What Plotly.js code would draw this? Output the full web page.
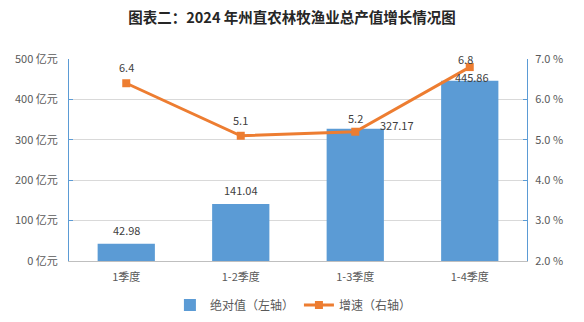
<!DOCTYPE html>
<html><head><meta charset="utf-8">
<script src="https://cdn.plot.ly/plotly-3.0.1.min.js"></script>
<style>html,body{margin:0;padding:0;background:#fff}#c{width:584px;height:322px}</style>
</head><body><div id="c"></div>
<script>
const categories = ["1季度", "1-2季度", "1-3季度", "1-4季度"];
const absValues = [42.98, 141.04, 327.17, 445.86];
const growthRates = [6.4, 5.1, 5.2, 6.8];
const leftTicks = [0, 100, 200, 300, 400, 500];
const rightTicks = [2, 3, 4, 5, 6, 7];

const font = "'Microsoft YaHei','Noto Sans CJK SC','Noto Sans',sans-serif";
const gray = "#595959";

const barLabelShift = [[0, 14], [0, 14], [42, 4], [2, 4]];
const lineLabelShift = [[0, 16], [0, 16], [0, 14], [-4, 8]];

const annotations = [];
absValues.forEach((v, i) => annotations.push({
  x: categories[i], y: v, xref: 'x', yref: 'y', text: v.toFixed(2), showarrow: false,
  xshift: barLabelShift[i][0], yshift: barLabelShift[i][1], font: {size: 11, color: "#404040", family: font}
}));
growthRates.forEach((v, i) => annotations.push({
  x: categories[i], y: v, xref: 'x', yref: 'y2', text: String(v), showarrow: false,
  xshift: lineLabelShift[i][0], yshift: lineLabelShift[i][1], font: {size: 11, color: "#404040", family: font}
}));

const data = [
  {type: 'bar', x: categories, y: absValues, name: '绝对值（左轴）', marker: {color: '#5b9bd5'}, yaxis: 'y'},
  {type: 'scatter', mode: 'lines+markers', x: categories, y: growthRates, name: '增速（右轴）', yaxis: 'y2',
   line: {color: '#ed7d31', width: 3}, marker: {symbol: 'square', size: 8, color: '#ed7d31'}}
];

const layout = {
  width: 584, height: 322,
  margin: {l: 69, r: 57, t: 59, b: 61, autoexpand: false},
  paper_bgcolor: '#fff', plot_bgcolor: '#fff',
  title: {text: '<b>图表二：2024 年州直农林牧渔业总产值增长情况图</b>', x: 0.5, xanchor: 'center', y: 0.945, yanchor: 'middle',
    font: {family: "'Noto Sans CJK SC',serif", size: 14.5, color: '#262626'}},
  bargap: 0.5,
  showlegend: true,
  legend: {orientation: 'h', x: 0.49, xanchor: 'center', xref: 'paper', yref: 'container', y: 0.053, yanchor: 'middle',
    font: {size: 12, color: gray, family: font}, traceorder: 'normal', itemwidth: 30},
  xaxis: {type: 'category', showline: true, linecolor: '#bfbfbf', linewidth: 1, ticks: '', ticklabelstandoff: 6,
    tickfont: {size: 11, color: gray, family: font}, showgrid: false, fixedrange: true},
  yaxis: {range: [0, 500], tickmode: 'array', tickvals: leftTicks, ticktext: leftTicks.map(v => v + ' 亿元'),
    showline: true, linecolor: '#5b9bd5', linewidth: 1, ticklabelstandoff: 8,
    ticks: 'inside', ticklen: 4, tickcolor: '#5b9bd5', gridcolor: '#d9d9d9', zeroline: false,
    tickfont: {size: 11, color: gray, family: font}},
  yaxis2: {range: [2, 7], tickmode: 'array', tickvals: rightTicks, ticktext: rightTicks.map(v => v.toFixed(1) + ' %'),
    overlaying: 'y', side: 'right', ticklabelstandoff: 5,
    showline: true, linecolor: '#5b9bd5', linewidth: 1, ticks: 'inside', ticklen: 4, tickcolor: '#5b9bd5',
    showgrid: false, zeroline: false, tickfont: {size: 11, color: gray, family: font}},
  annotations: annotations
};
Plotly.newPlot('c', data, layout, {displayModeBar: false, staticPlot: true});
</script></body></html>
